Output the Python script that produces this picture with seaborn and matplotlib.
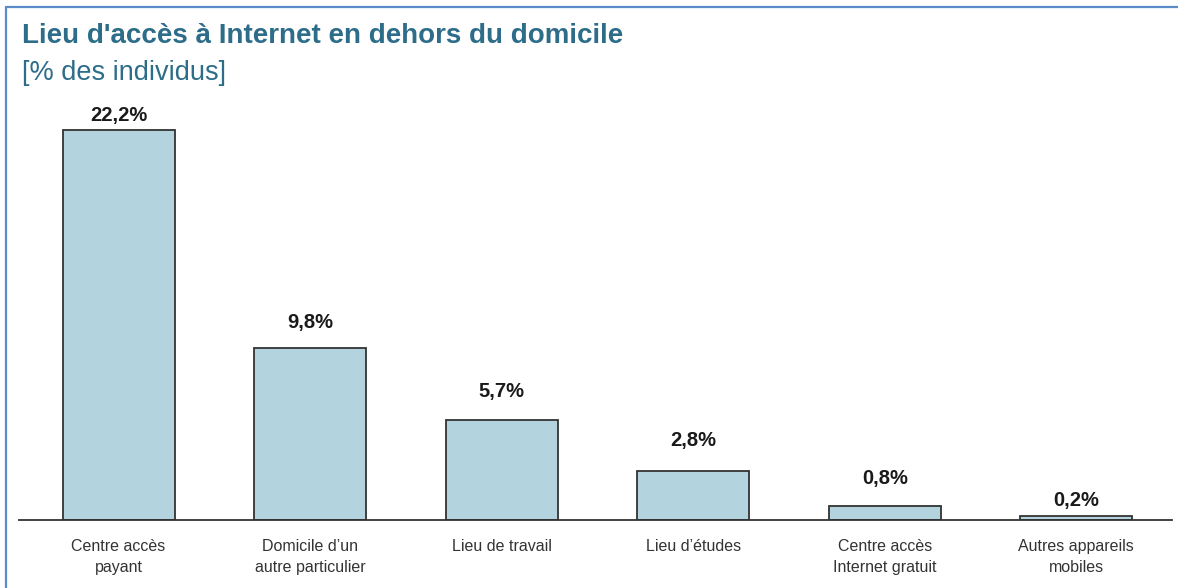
import matplotlib
matplotlib.use('Agg')
import matplotlib.pyplot as plt
import seaborn as sns
import pandas as pd

# données
lieux = ['Centre accès\npayant', 'Domicile d\u2019un\nautre particulier', 'Lieu de travail',
         'Lieu d\u2019études', 'Centre accès\nInternet gratuit', 'Autres appareils\nmobiles']
pourcentages = [22.2, 9.8, 5.7, 2.8, 0.8, 0.2]
etiquettes = ['22,2%', '9,8%', '5,7%', '2,8%', '0,8%', '0,2%']

df = pd.DataFrame({'lieu': lieux, 'pct': pourcentages})

sns.set_style('white')
plt.rcParams['font.family'] = ['Liberation Sans', 'DejaVu Sans']

fig = plt.figure(figsize=(11.78, 5.88), dpi=100)
ax = fig.add_axes([19 / 1178, 68 / 588, (1172 - 19) / 1178, (520 - 81) / 588])

sns.barplot(data=df, x='lieu', y='pct', color='#b3d3de', saturation=1,
            edgecolor='#333333', linewidth=1.3, width=0.585, ax=ax)

ax.set_xlim(-0.52, 5.5)
ax.set_ylim(0, 25)
ax.set_xlabel('')
ax.set_ylabel('')
ax.set_yticks([])
for s in ['top', 'right', 'left']:
    ax.spines[s].set_visible(False)
ax.spines['bottom'].set_color('#333333')
ax.spines['bottom'].set_linewidth(1.3)
ax.tick_params(axis='x', length=0, pad=14, labelsize=11.5, labelcolor='#333333')
for lab in ax.get_xticklabels():
    lab.set_linespacing(1.45)

# étiquettes de valeur (écart en pixels au-dessus de chaque barre)
ecarts = [15, 25, 28, 30, 27, 16]
for i, (v, t) in enumerate(zip(pourcentages, etiquettes)):
    ax.annotate(t, (i, v), xytext=(0, ecarts[i] * 0.72), textcoords='offset points',
                ha='center', va='center', fontsize=14.5, fontweight='bold', color='#1a1a1a')

titre_couleur = '#2d6d89'
fig.text(22 / 1178, 1 - 36 / 588, "Lieu d'accès à Internet en dehors du domicile",
         fontsize=20, fontweight='bold', color=titre_couleur, va='center', ha='left')
fig.text(22 / 1178, 1 - 73 / 588, '[% des individus]',
         fontsize=19.5, color=titre_couleur, va='center', ha='left')

# cadre bleu (gauche et haut)
cadre = '#5b8bc9'
fig.add_artist(plt.Line2D([6 / 1178, 6 / 1178], [0, 1 - 7 / 588], color=cadre, lw=1.6))
fig.add_artist(plt.Line2D([6 / 1178, 1], [1 - 7 / 588, 1 - 7 / 588], color=cadre, lw=1.6))

fig.savefig('out.png', dpi=100)
